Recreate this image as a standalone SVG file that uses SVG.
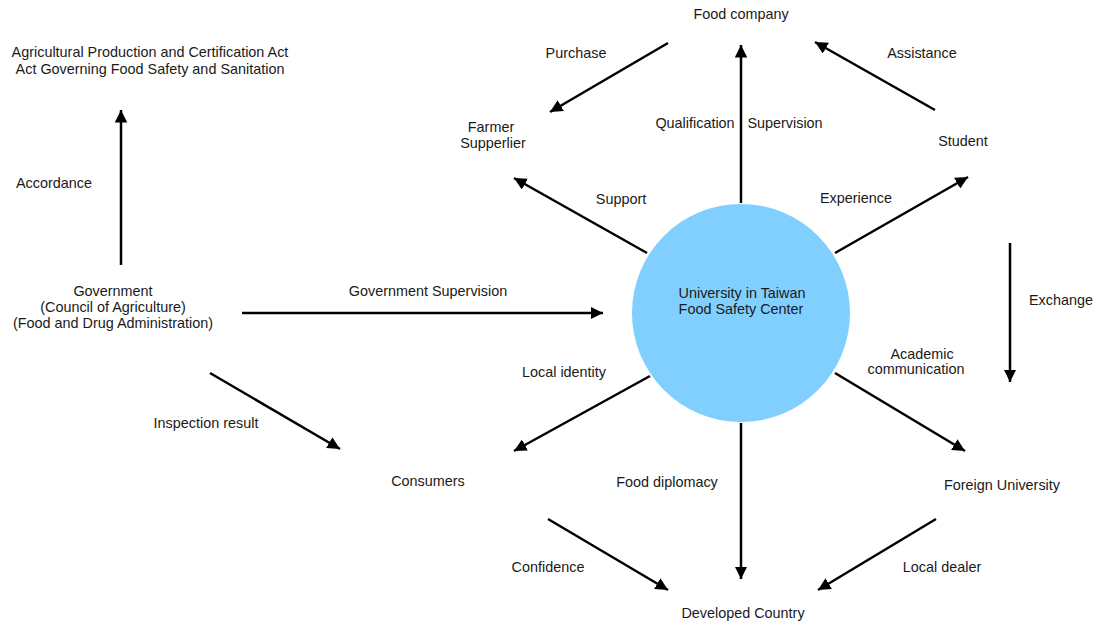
<svg xmlns="http://www.w3.org/2000/svg" width="1095" height="625" viewBox="0 0 1095 625">
<defs>
<marker id="ah" viewBox="0 0 10 10" refX="10" refY="5" markerWidth="5" markerHeight="5" markerUnits="strokeWidth" orient="auto">
<path d="M0,0 L10,5 L0,10 Z" fill="#000"/>
</marker>
<style>
text{font-family:"Liberation Sans",Arial,sans-serif;font-size:14.4px;fill:#1a1a1a;text-anchor:middle}
.c line{stroke:#000;stroke-width:2.5;marker-end:url(#ah)}
</style>
</defs>
<rect width="1095" height="625" fill="#fff"/>
<g id="center"><circle cx="741" cy="313" r="109" fill="#80cfff"/><text x="742" y="298">University in Taiwan</text><text x="741" y="314">Food Safety Center</text></g>
<g id="acts"><text x="150" y="57">Agricultural Production and Certification Act</text><text x="150" y="74">Act Governing Food Safety and Sanitation</text></g>
<g id="government"><text x="113" y="296">Government</text><text x="113" y="312">(Council of Agriculture)</text><text x="113" y="328">(Food and Drug Administration)</text></g>
<g id="foodcompany"><text x="741" y="19">Food company</text></g>
<g id="farmer"><text x="491" y="132">Farmer</text><text x="493" y="148">Supperlier</text></g>
<g id="student"><text x="963" y="146">Student</text></g>
<g id="consumers"><text x="428" y="486">Consumers</text></g>
<g id="foreign"><text x="1002" y="490">Foreign University</text></g>
<g id="developed"><text x="743" y="618">Developed Country</text></g>
<g class="c" id="connectors">
<line x1="121" y1="265" x2="121" y2="110"/>
<line x1="242" y1="313" x2="603" y2="313"/>
<line x1="210" y1="373" x2="340" y2="449"/>
<line x1="668" y1="43" x2="550" y2="112"/>
<line x1="741" y1="203" x2="741" y2="45"/>
<line x1="935" y1="110" x2="815" y2="42"/>
<line x1="647" y1="253" x2="514" y2="178"/>
<line x1="835" y1="253" x2="968" y2="177"/>
<line x1="1010" y1="243" x2="1010" y2="382"/>
<line x1="650" y1="376" x2="514" y2="451"/>
<line x1="835" y1="373" x2="965" y2="451"/>
<line x1="741" y1="423" x2="741" y2="579"/>
<line x1="548" y1="519" x2="668" y2="590"/>
<line x1="936" y1="519" x2="818" y2="590"/>
</g>
<g id="labels">
<text x="54" y="188">Accordance</text>
<text x="428" y="296">Government Supervision</text>
<text x="206" y="428">Inspection result</text>
<text x="576" y="58">Purchase</text>
<text x="922" y="58">Assistance</text>
<text x="695" y="128">Qualification</text>
<text x="785" y="128">Supervision</text>
<text x="621" y="204">Support</text>
<text x="856" y="203">Experience</text>
<text x="1061" y="305">Exchange</text>
<text x="922" y="359">Academic</text>
<text x="916" y="374">communication</text>
<text x="564" y="377">Local identity</text>
<text x="667" y="487">Food diplomacy</text>
<text x="548" y="572">Confidence</text>
<text x="942" y="572">Local dealer</text>
</g>
</svg>
